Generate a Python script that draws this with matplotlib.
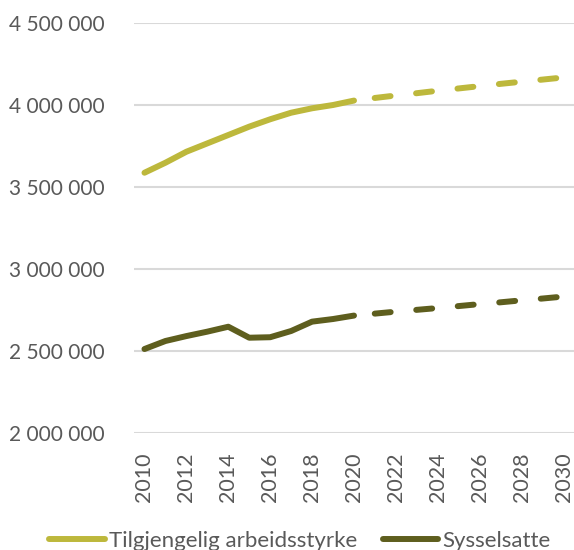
import matplotlib
matplotlib.use("Agg")
import matplotlib.pyplot as plt
from matplotlib.ticker import FuncFormatter, MultipleLocator

# ---- data ----
years_hist = list(range(2010, 2021))
years_proj = list(range(2020, 2031))

arbeidsstyrke_hist = [3587000, 3648000, 3715000, 3766000, 3817000, 3868000,
                      3913000, 3953000, 3980000, 4000000, 4027000]
arbeidsstyrke_proj = [4027000, 4043000, 4058000, 4072000, 4087000, 4101000,
                      4115000, 4129000, 4142000, 4155000, 4168000]

sysselsatte_hist = [2512000, 2561000, 2591000, 2618000, 2648000, 2581000,
                    2584000, 2622000, 2679000, 2695000, 2716000]
sysselsatte_proj = [2716000, 2728000, 2740000, 2751000, 2762000, 2774000,
                    2786000, 2797000, 2809000, 2820000, 2832000]

xtick_years = list(range(2010, 2031, 2))
labels = ["Tilgjengelig arbeidsstyrke", "Sysselsatte"]

YELLOW = "#BDB83C"
OLIVE = "#5E5E1E"
GREY = "#595959"
FS = 15

plt.rcParams["font.family"] = ["Lato", "DejaVu Sans"]
plt.rcParams["lines.scale_dashes"] = False

fig = plt.figure(figsize=(5.74, 5.5), dpi=100)
ax = fig.add_axes([134 / 574, 117 / 550, 440 / 574, 410 / 550])

lw = 4.3
# dash pattern in points: (offset, (on, off))
dash = (15.0, (11.5, 18.5))

ax.plot(years_hist, arbeidsstyrke_hist, color=YELLOW, lw=lw,
        solid_capstyle="round", solid_joinstyle="round", label=labels[0])
ax.plot(years_proj, arbeidsstyrke_proj, color=YELLOW, lw=lw,
        linestyle=dash, dash_capstyle="round")
ax.plot(years_hist, sysselsatte_hist, color=OLIVE, lw=lw,
        solid_capstyle="round", solid_joinstyle="round", label=labels[1])
ax.plot(years_proj, sysselsatte_proj, color=OLIVE, lw=lw,
        linestyle=dash, dash_capstyle="round")

ax.set_xlim(2009.5, 2030.5)
ax.set_ylim(2000000, 4500000)
ax.yaxis.set_major_locator(MultipleLocator(500000))
ax.yaxis.set_major_formatter(FuncFormatter(lambda v, p: f"{int(v):,}".replace(",", " ")))
ax.set_xticks(xtick_years)
ax.set_xticklabels([str(y) for y in xtick_years], rotation=90)

ax.grid(axis="y", color="#D9D9D9", lw=1.5)
ax.set_axisbelow(True)
for s in ax.spines.values():
    s.set_visible(False)
ax.tick_params(axis="y", length=0, pad=21, labelsize=FS, labelcolor=GREY)
ax.tick_params(axis="x", length=0, pad=14, labelsize=FS + 0.5, labelcolor=GREY)

leg = fig.legend(loc="center", bbox_to_anchor=(300 / 574, 9 / 550), ncol=2,
                 frameon=False, fontsize=16, handlelength=2.5, handletextpad=0.2,
                 columnspacing=1.15, borderpad=0, borderaxespad=0)
for t in leg.get_texts():
    t.set_color(GREY)
for h in leg.get_lines():
    h.set_solid_capstyle("round")

fig.savefig("out.png", dpi=100)
